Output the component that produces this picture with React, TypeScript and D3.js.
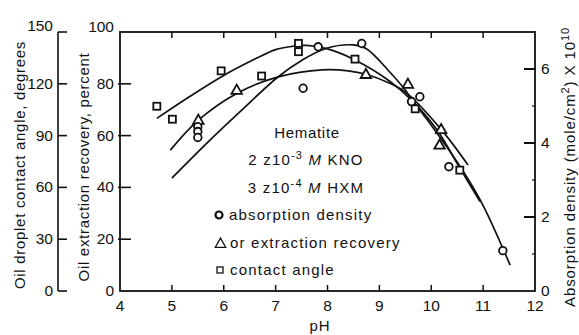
import React from "react";
import * as d3 from "d3";

// ---- data ----
// Contact angle (squares), degrees
const contactPH = [4.71, 5.01, 5.95, 6.73, 7.44, 7.44, 8.53, 9.69, 10.55];
const contactDeg = [107, 99.5, 127.5, 124.5, 143.4, 138.6, 134.3, 105.5, 70];
// Extraction recovery (triangles), percent
const recoveryPH = [5.51, 6.25, 8.74, 9.55, 10.19, 10.16];
const recoveryPct = [66, 77.6, 83.7, 79.9, 62.4, 56.4];
// Absorption density (circles), mole/cm2 x 1e10
const absorbPH = [5.5, 5.5, 5.5, 7.53, 7.82, 8.66, 9.62, 9.78, 10.34, 11.38];
const absorbVal = [4.44, 4.31, 4.15, 5.48, 6.6, 6.69, 5.12, 5.25, 3.36, 1.09];

// Fitted curves as drawn in the reference
const contactCurvePH = [4.71, 5.3, 5.95, 6.6, 7.0, 7.3, 7.6, 8.0, 8.53, 9.2, 9.62, 10.1, 10.55, 10.94];
const contactCurveDeg = [100, 111.8, 124, 134.3, 139.8, 141.6, 142.2, 140.2, 133.8, 121.5, 110.6, 93.8, 71.3, 51.8];
const recoveryCurvePH = [4.97, 5.5, 6.25, 7.05, 7.9, 8.4, 8.74, 9.2, 9.52, 10.19, 10.71];
const recoveryCurvePct = [54.4, 65.8, 76.3, 82.7, 85.4, 85, 83.7, 80.2, 76.5, 62.4, 48.6];
const absorbCurvePH = [5.0, 5.7, 6.31, 7.05, 7.5, 7.98, 8.5, 8.75, 9.2, 9.5, 9.62, 10.0, 10.6, 11.0, 11.52];
const absorbCurveVal = [3.05, 4.03, 4.84, 5.79, 6.23, 6.56, 6.65, 6.55, 5.92, 5.43, 5.18, 4.48, 3.27, 2.31, 0.7];

const pHTicks = [4, 5, 6, 7, 8, 9, 10, 11, 12];
const degTicks = [0, 30, 60, 90, 120, 150];
const pctTicks = [0, 20, 40, 60, 80, 100];
const absTicks = [0, 2, 4, 6];
const absMinorTicks = [1, 3, 5];

const FONT = "'Liberation Sans', Arial, Helvetica, sans-serif";

export default function App() {
  const x = d3.scaleLinear().domain([4, 12]).range([120, 535]);
  const yPct = d3.scaleLinear().domain([0, 100]).range([291, 32]);
  const yDeg = d3.scaleLinear().domain([0, 150]).range([291, 32]);
  const yAbs = d3.scaleLinear().domain([0, 7]).range([291, 32]);
  const x0 = x(4), x1 = x(12), y0 = yPct(0), y1 = yPct(100);

  const lineGen = (ys: (v: number) => number) =>
    d3
      .line<[number, number]>()
      .x((d) => x(d[0]))
      .y((d) => ys(d[1]))
      .curve(d3.curveCatmullRom.alpha(0.5));

  const contactPath = lineGen(yDeg)(contactCurvePH.map((p, i) => [p, contactCurveDeg[i]]));
  const recoveryPath = lineGen(yPct)(recoveryCurvePH.map((p, i) => [p, recoveryCurvePct[i]]));
  const absorbPath = lineGen(yAbs)(absorbCurvePH.map((p, i) => [p, absorbCurveVal[i]]));

  const sq = 7;
  const tri = (cx: number, cy: number, s: number) =>
    `M${cx},${cy - s * 0.6} L${cx + s * 0.58},${cy + s * 0.42} L${cx - s * 0.58},${cy + s * 0.42} Z`;

  return (
    <svg
      width={579}
      height={335}
      style={{ position: "absolute", left: 0, top: 0, background: "#fff" }}
      fontFamily={FONT}
    >
      <rect x={0} y={0} width={579} height={335} fill="#fff" />
      {/* frame */}
      <rect x={x0} y={y1} width={x1 - x0} height={y0 - y1} fill="none" stroke="#111" strokeWidth={1.8} />
      {/* pH ticks bottom & top */}
      {pHTicks.slice(1, -1).map((t) => (
        <g key={"pt" + t}>
          <line x1={x(t)} x2={x(t)} y1={y0} y2={y0 - 6} stroke="#111" strokeWidth={1.5} />
          <line x1={x(t)} x2={x(t)} y1={y1} y2={y1 + 6} stroke="#111" strokeWidth={1.5} />
        </g>
      ))}
      {pHTicks.map((t) => (
        <text key={"pl" + t} x={x(t)} y={311} textAnchor="middle" fontSize={15.5} fill="#111">
          {t}
        </text>
      ))}
      <text x={320} y={331} textAnchor="middle" fontSize={15} letterSpacing={0.8} fill="#111">
        pH
      </text>

      {/* percent axis (frame left) */}
      {pctTicks.map((t) => (
        <g key={"pc" + t}>
          {t > 0 && t < 100 && (
            <line x1={x0 - 2} x2={x0 + 11} y1={yPct(t)} y2={yPct(t)} stroke="#111" strokeWidth={1.6} />
          )}
          <text x={114} y={yPct(t) + 5 - (t === 100 ? 5 : 0)} textAnchor="end" fontSize={15.5} fill="#111">
            {t}
          </text>
        </g>
      ))}
      <text
        transform={`translate(89,167) rotate(-90)`}
        textAnchor="middle"
        fontSize={15}
        letterSpacing={0.7}
        fill="#111"
      >
        Oil extraction recovery, percent
      </text>

      {/* degrees axis (leftmost) */}
      <line x1={58} x2={58} y1={yDeg(150)} y2={yDeg(0)} stroke="#111" strokeWidth={1.6} />
      {degTicks.map((t) => (
        <g key={"dg" + t}>
          <line x1={58} x2={67} y1={yDeg(t)} y2={yDeg(t)} stroke="#111" strokeWidth={1.6} />
          <text x={53} y={yDeg(t) + 5 - (t === 150 ? 6 : 0)} textAnchor="end" fontSize={15.5} fill="#111">
            {t}
          </text>
        </g>
      ))}
      <text
        transform={`translate(25,165) rotate(-90)`}
        textAnchor="middle"
        fontSize={15}
        letterSpacing={0.7}
        fill="#111"
      >
        Oil droplet contact angle, degrees
      </text>

      {/* absorption axis (right) */}
      {absTicks.map((t) => (
        <g key={"ab" + t}>
          {t > 0 && <line x1={x1 - 11} x2={x1 + 1} y1={yAbs(t)} y2={yAbs(t)} stroke="#111" strokeWidth={2} />}
          <text x={541} y={yAbs(t) + 5} textAnchor="start" fontSize={15.5} fill="#111">
            {t}
          </text>
        </g>
      ))}
      {absMinorTicks.map((t) => (
        <line key={"am" + t} x1={x1 - 3} x2={x1} y1={yAbs(t)} y2={yAbs(t)} stroke="#111" strokeWidth={1.2} />
      ))}
      <text
        transform={`translate(575,167) rotate(-90)`}
        textAnchor="middle"
        fontSize={15}
        letterSpacing={0.9}
        fill="#111"
      >
        Absorption density (mole/cm
        <tspan dy={-6} fontSize={11}>2</tspan>
        <tspan dy={6}>) X 10</tspan>
        <tspan dy={-6} fontSize={11}>10</tspan>
      </text>

      {/* curves */}
      <g fill="none" stroke="#111" strokeWidth={1.7}>
        <path d={contactPath || ""} />
        <path d={recoveryPath || ""} />
        <path d={absorbPath || ""} />
      </g>

      {/* markers */}
      <g fill="#fff" stroke="#111" strokeWidth={1.8}>
        {contactPH.map((p, i) => (
          <rect key={"s" + i} x={x(p) - sq / 2} y={yDeg(contactDeg[i]) - sq / 2} width={sq} height={sq} />
        ))}
        {recoveryPH.map((p, i) => (
          <path key={"t" + i} d={tri(x(p), yPct(recoveryPct[i]), 9)} />
        ))}
        {absorbPH.map((p, i) => (
          <circle key={"c" + i} cx={x(p)} cy={yAbs(absorbVal[i])} r={3.8} />
        ))}
      </g>

      {/* legend */}
      <g fontSize={15} fill="#111" letterSpacing={1.2}>
        <text x={307} y={138} textAnchor="middle" letterSpacing={0.7}>Hematite</text>
        <text x={306} y={165} textAnchor="middle">
          2 z10<tspan dy={-6} fontSize={11}>-3</tspan>
          <tspan dy={6} fontStyle="italic"> M</tspan> KNO
        </text>
        <text x={306} y={193} textAnchor="middle">
          3 z10<tspan dy={-6} fontSize={11}>-4</tspan>
          <tspan dy={6} fontStyle="italic"> M</tspan> HXM
        </text>
        <circle cx={219} cy={215} r={3.5} fill="#fff" stroke="#111" strokeWidth={2.2} />
        <text x={229} y={220}>absorption density</text>
        <path d={tri(220.5, 243.5, 9)} fill="none" stroke="#111" strokeWidth={1.3} />
        <text x={230} y={248}>or extraction recovery</text>
        <rect x={217} y={267} width={6} height={6} fill="none" stroke="#111" strokeWidth={1.3} />
        <text x={230} y={275}>contact angle</text>
      </g>
    </svg>
  );
}
